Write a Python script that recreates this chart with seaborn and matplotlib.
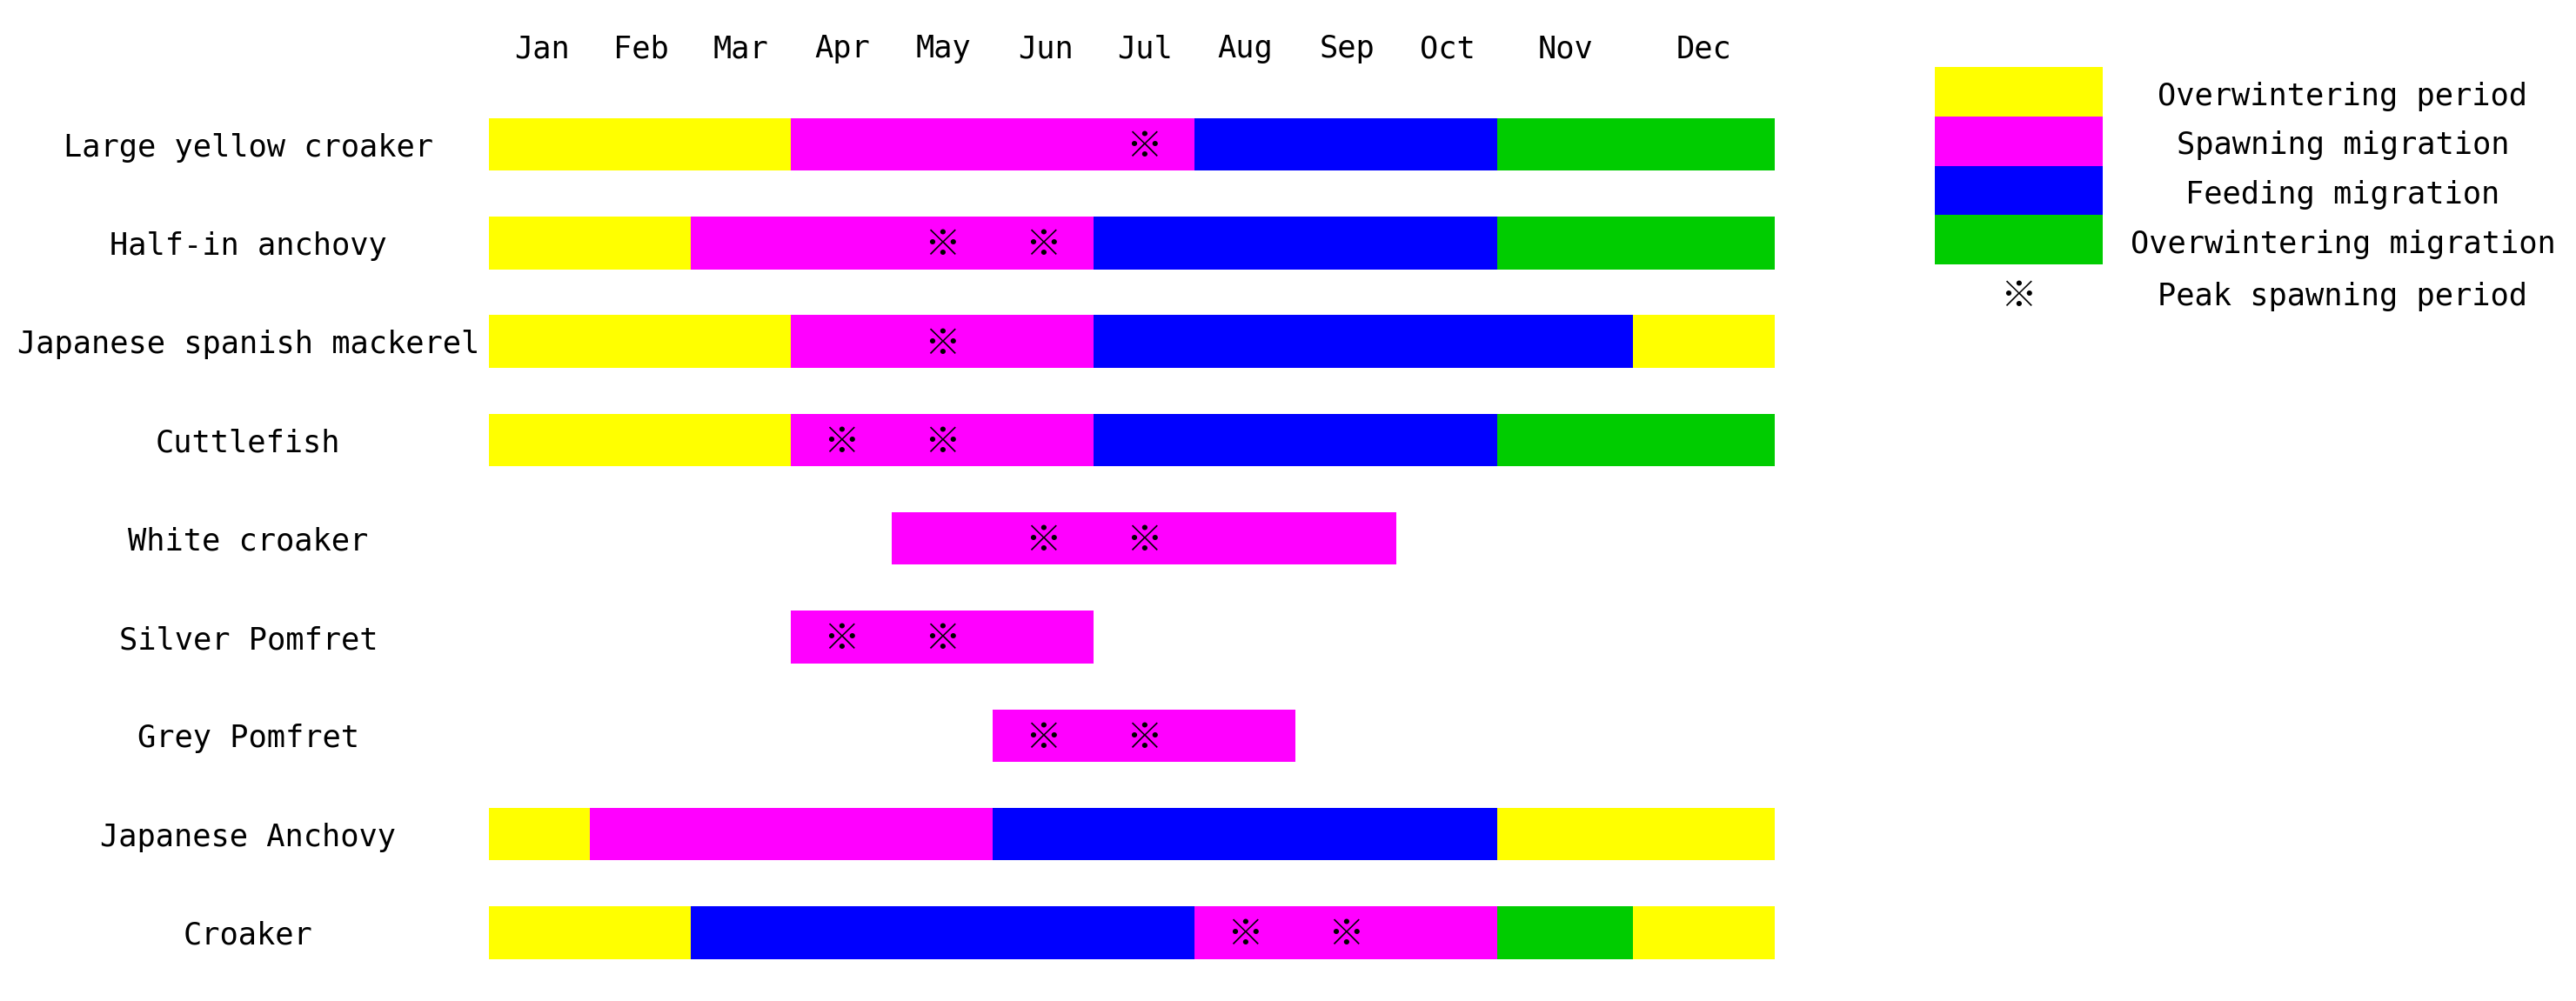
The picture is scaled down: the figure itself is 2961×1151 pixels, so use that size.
import numpy as np
import pandas as pd
import seaborn as sns
import matplotlib.pyplot as plt

# species rows, top to bottom
species = ["Large yellow croaker", "Half-in anchovy", "Japanese spanish mackerel",
           "Cuttlefish", "White croaker", "Silver Pomfret", "Grey Pomfret",
           "Japanese Anchovy", "Croaker"]

months = ["Jan", "Feb", "Mar", "Apr", "May", "Jun", "Jul", "Aug", "Sep", "Oct", "Nov", "Dec"]
month_pos = [0.53, 1.51, 2.50, 3.51, 4.51, 5.52, 6.51, 7.50, 8.51, 9.51, 10.68, 12.05]

phases = ["Overwintering period", "Spawning migration", "Feeding migration",
          "Overwintering migration"]
phase_colors = ["#ffff00", "#ff00ff", "#0000ff", "#00cc00"]
peak_label = "Peak spawning period"

# one entry per coloured segment (month units)
seg_species = [0, 0, 0, 0,
               1, 1, 1, 1,
               2, 2, 2, 2,
               3, 3, 3, 3,
               4,
               5,
               6,
               7, 7, 7, 7,
               8, 8, 8, 8, 8]
seg_start = [0, 3, 7, 10,
             0, 2, 6, 10,
             0, 3, 6, 11.35,
             0, 3, 6, 10,
             4,
             3,
             5,
             0, 1, 5, 10,
             0, 2, 7, 10, 11.35]
seg_end = [3, 7, 10, 12.75,
           2, 6, 10, 12.75,
           3, 6, 11.35, 12.75,
           3, 6, 10, 12.75,
           9,
           6,
           8,
           1, 5, 10, 12.75,
           2, 7, 10, 11.35, 12.75]
seg_phase = [0, 1, 2, 3,
             0, 1, 2, 3,
             0, 1, 2, 0,
             0, 1, 2, 3,
             1,
             1,
             1,
             0, 1, 2, 0,
             0, 2, 1, 3, 0]

# peak spawning marks
peak_species = [0, 1, 1, 2, 3, 3, 4, 4, 5, 5, 6, 6, 8, 8]
peak_month = [6.5, 4.5, 5.5, 4.5, 3.5, 4.5, 5.5, 6.5, 3.5, 4.5, 5.5, 6.5, 7.5, 8.5]

segs = pd.DataFrame({"row": seg_species, "start": seg_start, "end": seg_end, "phase": seg_phase})
segs["width"] = segs["end"] - segs["start"]

sns.set_style("white")
plt.rcParams['font.family'] = ['DejaVu Sans Mono', 'DejaVu Sans']
plt.rcParams['text.color'] = 'black'
plt.rcParams['xtick.color'] = 'black'
plt.rcParams['ytick.color'] = 'black'
mark_font = ['Noto Sans CJK SC', 'DejaVu Sans']
fs = 25.5
mark_fs = 30

fig = plt.figure(figsize=(29.61, 11.51), dpi=100)
ax = fig.add_axes([0.1897, 0.0191, 0.4991, 0.8858])

for p, grp in segs.groupby("phase"):
    ax.barh(grp["row"], grp["width"], left=grp["start"], height=0.533,
            color=phase_colors[p], linewidth=0)

for r, m in zip(peak_species, peak_month):
    ax.text(m, r + 0.03, "※", ha="center", va="center", fontsize=mark_fs,
            family=mark_font, color="black")

ax.set_xlim(0, 12.75)
ax.set_ylim(len(species) - 0.5, -0.5)
ax.set_yticks(range(len(species)), species, fontsize=fs)
for lab in ax.get_yticklabels():
    lab.set_horizontalalignment("center")
ax.xaxis.tick_top()
ax.set_xticks(month_pos, months, fontsize=fs)
ax.tick_params(axis="y", length=0, pad=199)
ax.tick_params(axis="x", length=0, pad=26)
sns.despine(ax=ax, left=True, bottom=True, top=True, right=True)
ax.grid(False)

# legend drawn as its own small axes
lax = fig.add_axes([2224 / 2961, 1 - 371.7 / 1151, 737 / 2961, 5.2 * 56.6 / 1151])
lax.barh(range(len(phases)), [193] * len(phases), height=1.0, color=phase_colors, linewidth=0)
for i, name in enumerate(phases):
    lax.text(469, i + 0.09, name, ha="center", va="center", fontsize=fs)
lax.text(96, 4.16, "※", ha="center", va="center", fontsize=mark_fs, family=mark_font)
lax.text(469, 4.16, peak_label, ha="center", va="center", fontsize=fs)
lax.set_xlim(0, 737)
lax.set_ylim(4.7, -0.5)
lax.axis("off")

fig.savefig("out.png", dpi=100)
